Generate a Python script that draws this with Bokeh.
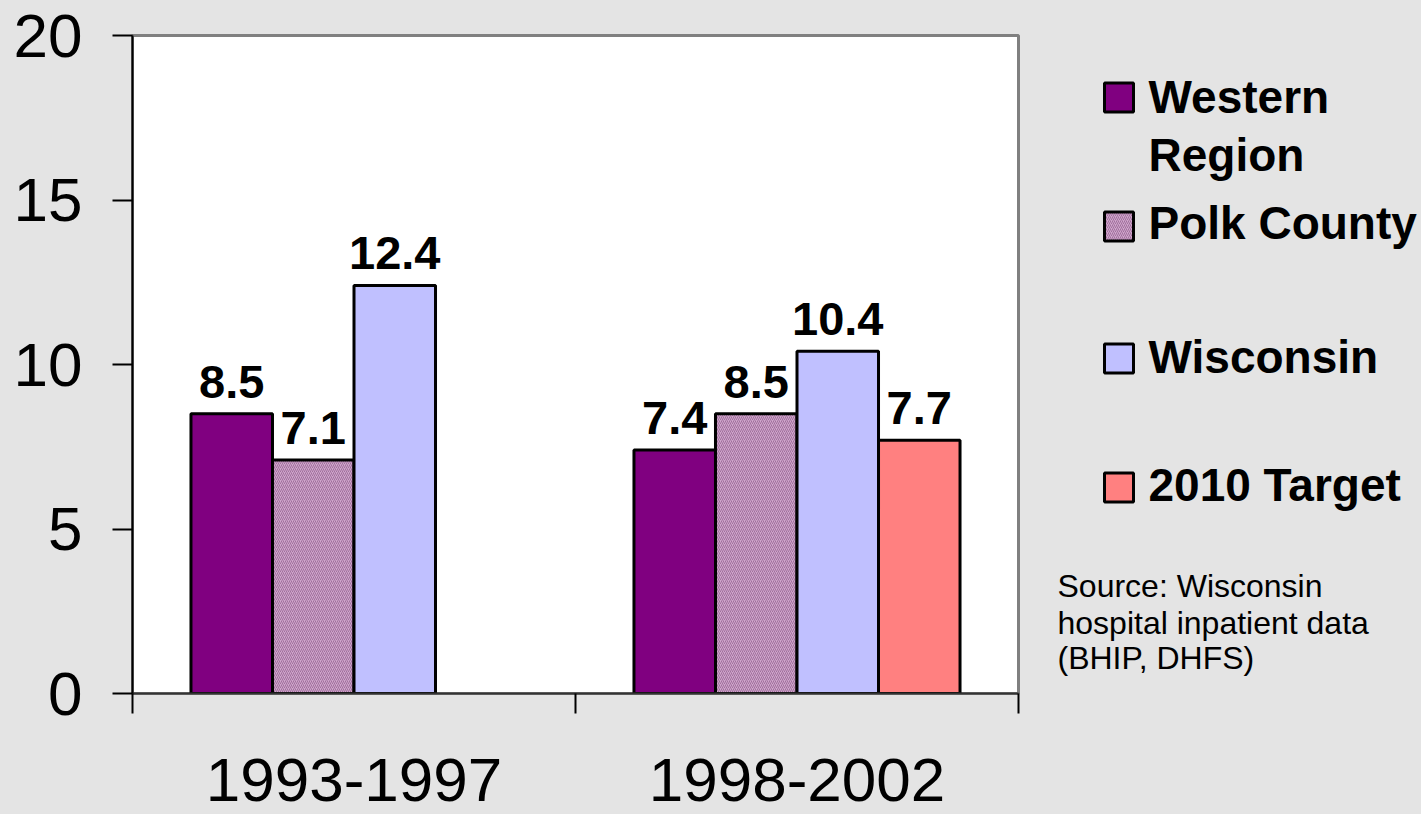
from bokeh.plotting import figure
from bokeh.models import FixedTicker, Range1d, ColumnDataSource
from bokeh.layouts import row
from bokeh.transform import dodge
from bokeh.core.properties import value
from bokeh.embed import file_html
from bokeh.resources import INLINE

# ---- data ----
periods = ["1993-1997", "1998-2002"]
series_names = ["Western Region", "Polk County", "Wisconsin", "2010 Target"]
legend_lines = [["Western", "Region"], ["Polk County"], ["Wisconsin"], ["2010 Target"]]
western = [8.5, 7.4]
polk = [7.1, 8.5]
wisconsin = [12.4, 10.4]
target = [None, 7.7]
y_ticks = [0, 5, 10, 15, 20]
source_lines = ["Source: Wisconsin", "hospital inpatient data", "(BHIP, DHFS)"]

series_values = [western, polk, wisconsin, target]
colors = ["#800080", "#CFA5CB", "#C0C0FF", "#FF8080"]
hatches = [None, "/", None, None]

BG = "#E4E4E4"
FONT = "Liberation Sans"
BASE_SHIFT = 0.34  # em; compensation for the svg text baseline

p = figure(frame_width=886, frame_height=658, min_border_left=132, min_border_top=35,
           min_border_right=5, min_border_bottom=121,
           x_range=Range1d(0, len(periods)), y_range=Range1d(0, 20),
           output_backend="svg", toolbar_location=None)
p.background_fill_color = "white"
p.border_fill_color = BG
p.outline_line_color = "#808080"
p.outline_line_width = 3
p.grid.visible = False

bar_w = 0.184
n = len(series_names)
for k, (vals, col, h) in enumerate(zip(series_values, colors, hatches)):
    xs, tops = [], []
    for i, v in enumerate(vals):
        if v is None:
            continue
        xs.append(i + 0.5 + (k - (n - 1) / 2) * bar_w)
        tops.append(v)
    src = ColumnDataSource(dict(x=xs, top=tops, lab=[f"{t:.1f}" for t in tops]))
    kw = dict(x="x", top="top", bottom=0, width=bar_w, source=src,
              fill_color=col, line_color="black", line_width=3)
    if h:
        kw.update(hatch_pattern=h, hatch_color="#A0709C", hatch_scale=4, hatch_weight=1)
    p.vbar(**kw)
    p.text(x="x", y=dodge("top", 0.98, range=p.y_range), text="lab", source=src,
           text_align="center", text_baseline="alphabetic",
           text_font=value(FONT), text_font_style="bold", text_font_size="47px",
           text_color="black")

# y axis
p.yaxis.ticker = FixedTicker(ticks=y_ticks)
p.yaxis.minor_tick_line_color = None
p.yaxis.major_tick_out = 20
p.yaxis.major_tick_in = 0
p.yaxis.major_tick_line_color = "black"
p.yaxis.major_tick_line_width = 2
p.yaxis.axis_line_color = "black"
p.yaxis.axis_line_width = 2
p.yaxis.major_label_text_font = FONT
p.yaxis.major_label_text_font_size = "62px"
p.yaxis.major_label_text_color = "black"
p.yaxis.major_label_standoff = 30

# x axis: category names at group centres, boundary ticks as minor ticks
centers = [i + 0.5 for i in range(len(periods))]
p.xaxis.ticker = FixedTicker(ticks=centers, minor_ticks=list(range(len(periods) + 1)))
p.xaxis.major_label_overrides = {c: lab for c, lab in zip(centers, periods)}
p.xaxis.major_tick_out = 0
p.xaxis.major_tick_in = 0
p.xaxis.major_tick_line_color = None
p.xaxis.minor_tick_out = 20
p.xaxis.minor_tick_in = 0
p.xaxis.minor_tick_line_color = "black"
p.xaxis.minor_tick_line_width = 2
p.xaxis.axis_line_color = "#333333"
p.xaxis.axis_line_width = 2
p.xaxis.major_label_text_font = FONT
p.xaxis.major_label_text_font_size = "62px"
p.xaxis.major_label_text_color = "black"
p.xaxis.major_label_standoff = 45

# ---- legend panel (its frame is aligned with the chart frame: y = page pixel) ----
X0, X1 = 1023, 1421
leg = figure(frame_width=X1 - X0, frame_height=658, min_border_left=0, min_border_right=0,
             min_border_top=35, min_border_bottom=121,
             x_range=Range1d(X0, X1), y_range=Range1d(693, 35),
             output_backend="svg", toolbar_location=None)
leg.axis.visible = False
leg.grid.visible = False
leg.outline_line_color = None
leg.background_fill_color = None
leg.border_fill_color = BG

key_cy = [97, 226, 358, 487]
base_y = [[112, 170], [238], [372], [500]]
for k in range(n):
    kw = dict(x=[1118.5], y=[key_cy[k]], width=[29], height=[29], fill_color=colors[k],
              line_color="black", line_width=3)
    if hatches[k]:
        kw.update(hatch_pattern=hatches[k], hatch_color="#A0709C", hatch_scale=4, hatch_weight=1)
    leg.rect(**kw)
    leg.text(x=[1148] * len(legend_lines[k]), y=[b - BASE_SHIFT * 46 for b in base_y[k]],
             text=legend_lines[k], text_baseline="alphabetic", text_align="left",
             text_font=value(FONT), text_font_style="bold", text_font_size="46px",
             text_color="black")

leg.text(x=[1057] * len(source_lines), y=[b - BASE_SHIFT * 32 for b in [596, 633, 668]],
         text=source_lines, text_baseline="alphabetic", text_align="left",
         text_font=value(FONT), text_font_size="32px", text_color="black")

layout = row(p, leg, spacing=0)
layout.styles = {"background-color": BG}
open("out.html", "w").write(file_html(layout, INLINE))
